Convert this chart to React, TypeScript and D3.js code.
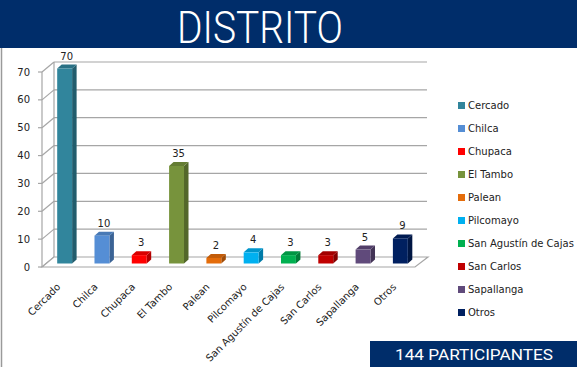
import { scaleBand, scaleLinear } from 'd3';

const categories = ['Cercado', 'Chilca', 'Chupaca', 'El Tambo', 'Palean', 'Pilcomayo', 'San Agustín de Cajas', 'San Carlos', 'Sapallanga', 'Otros'];
const values = [70, 10, 3, 35, 2, 4, 3, 3, 5, 9];
const colors = ['#31859c', '#558ed5', '#ff0000', '#77933c', '#e46c0a', '#00b0f0', '#00b050', '#c00000', '#604a7b', '#002060'];
const yTicks = [0, 10, 20, 30, 40, 50, 60, 70];
const title = 'DISTRITO';
const footer = '144 PARTICIPANTES';

const W = 577;
const H = 367;
const NAVY = '#002d6a';
const FONT = 'DejaVu Sans, Verdana, sans-serif';

// 3d depth of the chart floor/walls
const DX = 12;
const DY = -10;
// bar placement inside the depth + bar's own depth
const BX = 4;
const BY = -3.5;
const SX = 4.5;
const SY = -4;

function shade(c: string, k: number) {
  const r = parseInt(c.slice(1, 3), 16), g = parseInt(c.slice(3, 5), 16), b = parseInt(c.slice(5, 7), 16);
  const f = (v: number) => Math.max(0, Math.min(255, Math.round(v * k)));
  return `rgb(${f(r)},${f(g)},${f(b)})`;
}

export default function App() {
  const x = scaleBand<string>().domain(categories).range([42, 415]).paddingInner(0.6).paddingOuter(0.3);
  const y = scaleLinear().domain([0, 70]).range([267, 72]);
  const left = x.range()[0];
  const right = x.range()[1];

  return (
    <svg width={W} height={H} style={{ position: 'absolute', left: 0, top: 0 }}>
      <rect width={W} height={H} fill="#fff" />
      {/* header */}
      <rect x={0} y={0} width={W} height={48} fill={NAVY} />
      <text x={260} y={43} fill="#fff" fontFamily="Roboto, sans-serif" fontWeight={300} fontSize={45}
        textAnchor="middle" textLength={166} lengthAdjust="spacingAndGlyphs">{title}</text>
      <line x1={1.5} y1={48} x2={1.5} y2={H} stroke="#9a9a9a" strokeWidth={1.5} />

      {/* walls */}
      <g stroke="#a6a6a6" strokeWidth={1.2} fill="none">
        {yTicks.map((t) => (
          <g key={t}>
            <line x1={left} y1={y(t)} x2={left + DX} y2={y(t) + DY} />
            {t > 0 && <line x1={left + DX} y1={y(t) + DY} x2={right + DX} y2={y(t) + DY} />}
            <line x1={left - 4} y1={y(t)} x2={left} y2={y(t)} />
          </g>
        ))}
        <line x1={left + DX} y1={y(0) + DY} x2={left + DX} y2={y(70) + DY} />
        <line x1={left} y1={y(0)} x2={left} y2={y(70)} />
        <path d={`M${left},${y(0)}L${right},${y(0)}L${right + DX + 1},${y(0) + DY}L${left + DX},${y(0) + DY}Z`} fill="#fff" />
      </g>

      {/* y labels */}
      {yTicks.map((t) => (
        <text key={t} x={30} y={y(t)} dy="0.36em" textAnchor="end" fontFamily={FONT} fontSize={10} fill="#222">{t}</text>
      ))}

      {/* bars */}
      {categories.map((c, i) => {
        const x0 = (x(c) as number) + BX;
        const w = x.bandwidth();
        const yb = y(0) + BY;
        const yt = y(values[i]) + BY;
        const col = colors[i];
        return (
          <g key={c}>
            <path d={`M${x0 + w},${yb}L${x0 + w + SX},${yb + SY}L${x0 + w + SX},${yt + SY}L${x0 + w},${yt}Z`} fill={shade(col, 0.7)} />
            <path d={`M${x0},${yt}L${x0 + SX},${yt + SY}L${x0 + w + SX},${yt + SY}L${x0 + w},${yt}Z`} fill={shade(col, 0.85)} />
            <rect x={x0} y={yt} width={w} height={yb - yt} fill={col} />
            <text x={x0 + w / 2 + 2} y={yt - 9} textAnchor="middle" fontFamily={FONT} fontSize={10} fill="#222">{values[i]}</text>
          </g>
        );
      })}

      {/* x labels */}
      {categories.map((c) => {
        const cx = (x(c) as number) + x.bandwidth() / 2;
        return (
          <text key={c} transform={`translate(${cx - 2},${285}) rotate(-45)`} dy="0.35em" textAnchor="end"
            fontFamily={FONT} fontSize={10} fill="#222">{c}</text>
        );
      })}

      {/* legend */}
      {categories.map((c, i) => {
        const ly = 105.5 + i * 23;
        return (
          <g key={c}>
            <rect x={458} y={ly - 3.5} width={7} height={7} fill={colors[i]} />
            <text x={468} y={ly} dy="0.36em" fontFamily={FONT} fontSize={10} fill="#222">{c}</text>
          </g>
        );
      })}

      {/* footer */}
      <rect x={370} y={341} width={W - 370} height={H - 341} fill={NAVY} />
      <text x={474} y={360} textAnchor="middle" fill="#fff" fontFamily="Roboto, sans-serif" fontSize={14}
        textLength={158} lengthAdjust="spacingAndGlyphs">{footer}</text>
    </svg>
  );
}
